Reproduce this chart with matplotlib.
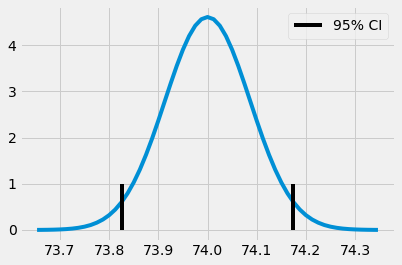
import matplotlib
matplotlib.use("Agg")
import matplotlib.pyplot as plt

plt.style.use("fivethirtyeight")

# density curve
x_vals = [73.6536, 73.6625, 73.675, 73.6875, 73.7, 73.7125, 73.725, 73.7375, 73.75,
          73.7625, 73.775, 73.7875, 73.8, 73.8125, 73.825, 73.8375, 73.85,
          73.8625, 73.875, 73.8875, 73.9, 73.9125, 73.925, 73.9375, 73.95,
          73.9625, 73.975, 73.9875, 74.0, 74.0125, 74.025, 74.0375, 74.05,
          74.0625, 74.075, 74.0875, 74.1, 74.1125, 74.125, 74.1375, 74.15,
          74.1625, 74.175, 74.1875, 74.2, 74.2125, 74.225, 74.2375, 74.25,
          74.2625, 74.275, 74.2875, 74.3, 74.3125, 74.325, 74.3375, 74.3464]
y_vals = [0.0015, 0.0023, 0.0040, 0.0068, 0.0114, 0.0186, 0.0298, 0.0466, 0.0714,
          0.107, 0.158, 0.227, 0.320, 0.442, 0.598, 0.792, 1.028,
          1.306, 1.626, 1.981, 2.365, 2.766, 3.166, 3.551, 3.900,
          4.195, 4.419, 4.559, 4.607, 4.559, 4.419, 4.195, 3.900,
          3.551, 3.166, 2.766, 2.365, 1.981, 1.626, 1.306, 1.028,
          0.792, 0.598, 0.442, 0.320, 0.227, 0.158, 0.107, 0.0714,
          0.0466, 0.0298, 0.0186, 0.0114, 0.0068, 0.0040, 0.0023, 0.0015]

ci_bounds = [73.826, 74.174]
ci_height = 1

fig = plt.figure(figsize=(402 / 72, 265 / 72), dpi=72)
ax = fig.add_axes([0.0498, 0.092, 0.9328, 0.884])

ax.plot(x_vals, y_vals)
ax.vlines(ci_bounds, 0, ci_height, colors="black", linewidth=4, label="95% CI")
ax.legend(loc="upper right")
ax.set_xticks([73.7, 73.8, 73.9, 74.0, 74.1, 74.2, 74.3])

fig.savefig("out.png", dpi=72)
